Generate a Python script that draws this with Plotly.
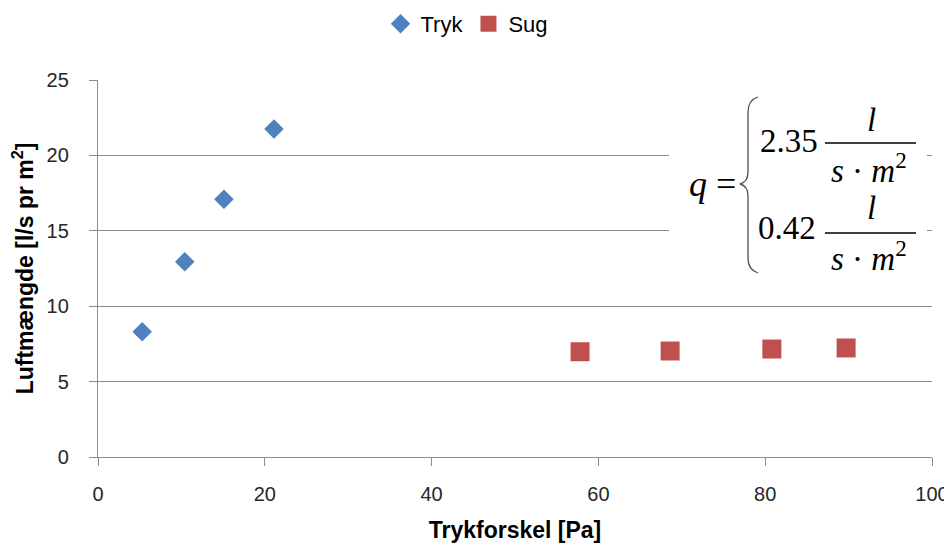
import plotly.graph_objects as go

# data
tryk_x = [5.3, 10.4, 15.1, 21.1]
tryk_y = [8.3, 12.95, 17.1, 21.75]
sug_x = [57.8, 68.6, 80.8, 89.7]
sug_y = [6.98, 7.03, 7.16, 7.23]

x_ticks = [0, 20, 40, 60, 80, 100]
y_ticks = [0, 5, 10, 15, 20, 25]

W, H = 952, 552
OFF = 8  # page body margin
L, T = 98 - OFF, 80 - OFF
R, B = W - (932 - OFF), H - (457 - OFF)
PW, PH = W - L - R, H - T - B

# reference pixel -> paper coordinates
def px(x):
    return (x - OFF - L) / PW

def py(y):
    return (H - B - (y - OFF)) / PH

SANS = "Liberation Sans, Arial, sans-serif"
TICKFONT = dict(family=SANS, size=20, color="#262626")
SERIF = "Liberation Serif, Times New Roman, serif"
GRID = "#8c8c8c"

fig = go.Figure()

fig.add_trace(go.Scatter(
    x=tryk_x, y=tryk_y, mode='markers', name='Tryk',
    marker=dict(symbol='diamond', size=15, color='#4F81BD')
))
fig.add_trace(go.Scatter(
    x=sug_x, y=sug_y, mode='markers', name='Sug',
    marker=dict(symbol='square', size=19, color='#C0504D')
))

# white box behind the formula (hides gridlines)
shapes = [dict(type='rect', xref='paper', yref='paper',
               x0=px(669), x1=px(927), y0=py(280), y1=py(88),
               fillcolor='white', line=dict(width=0), layer='above')]

# fraction bars
for yy in (143, 233):
    shapes.append(dict(type='line', xref='paper', yref='paper',
                       x0=px(825), x1=px(916), y0=py(yy), y1=py(yy),
                       line=dict(color='black', width=1.5), layer='above'))

# curly brace
pts = [(758, 97), (748, 100), (748, 112), (748, 172), (748, 182), (740, 184),
       (748, 186), (748, 196), (748, 258), (748, 270), (758, 273)]
p = [(px(a), py(b)) for a, b in pts]
path = (f"M {p[0][0]},{p[0][1]} Q {p[1][0]},{p[1][1]} {p[2][0]},{p[2][1]} "
        f"L {p[3][0]},{p[3][1]} Q {p[4][0]},{p[4][1]} {p[5][0]},{p[5][1]} "
        f"Q {p[6][0]},{p[6][1]} {p[7][0]},{p[7][1]} "
        f"L {p[8][0]},{p[8][1]} Q {p[9][0]},{p[9][1]} {p[10][0]},{p[10][1]}")
shapes.append(dict(type='path', xref='paper', yref='paper', path=path,
                   line=dict(color='#5a4a40', width=1.3), layer='above'))

ann = []

def txt(x, y, s, size=33, anchor='center'):
    ann.append(dict(xref='paper', yref='paper', x=px(x), y=py(y), text=s,
                    showarrow=False, xanchor=anchor, yanchor='middle',
                    font=dict(family=SERIF, size=size, color='black')))

txt(712, 184, "<i>q</i> =", 36)
txt(789, 141, "2.35", 33)
txt(787, 228, "0.42", 33)
txt(871, 120, "<i>l</i>", 33)
txt(871, 208, "<i>l</i>", 33)
txt(869, 168, "<i>s</i> · <i>m</i><sup>2</sup>", 33)
txt(869, 256, "<i>s</i> · <i>m</i><sup>2</sup>", 33)

fig.update_layout(
    width=W, height=H,
    margin=dict(l=L, r=R, t=T, b=B, autoexpand=False),
    paper_bgcolor='white', plot_bgcolor='white',
    shapes=shapes, annotations=ann,
    legend=dict(orientation='h', xref='container', yref='container',
                x=(467 - OFF) / W, xanchor='center', y=1 - (24 - OFF) / H, yanchor='middle',
                font=dict(family=SANS, size=22, color='#000'),
                itemwidth=30),
    showlegend=True,
)

fig.update_xaxes(
    range=[0, 100], tickvals=x_ticks, showgrid=False, zeroline=False,
    showline=True, linecolor=GRID, linewidth=1.3,
    ticks='outside', ticklen=8, tickcolor=GRID, tickwidth=1.3,
    tickfont=TICKFONT, ticklabelstandoff=11, automargin=False,
    title=dict(text='<b>Trykforskel [Pa]</b>',
               font=dict(family=SANS, size=23, color='#000'), standoff=17),
)
fig.update_yaxes(
    range=[0, 25], tickvals=y_ticks, showgrid=True, gridcolor=GRID, gridwidth=1.3,
    zeroline=False, showline=True, linecolor=GRID, linewidth=1.3,
    ticks='outside', ticklen=8, tickcolor=GRID, tickwidth=1.3,
    tickfont=TICKFONT, ticklabelstandoff=16, automargin=False,
    title=dict(text='<b>Luftmængde [l/s pr m<sup>2</sup>]</b>',
               font=dict(family=SANS, size=23, color='#000'),
               standoff=13),
)

fig.write_html("out.html")
